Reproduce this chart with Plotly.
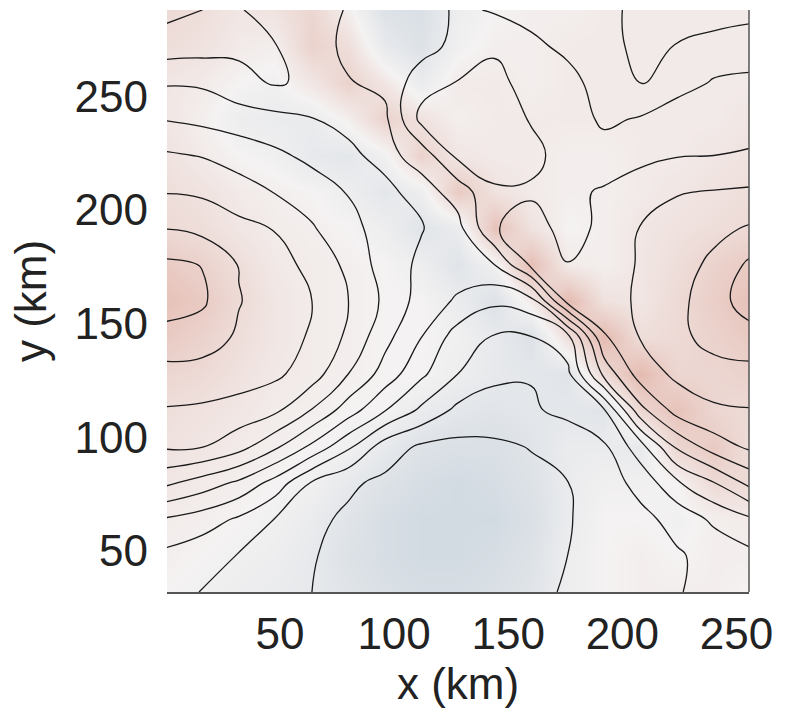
import plotly.graph_objects as go

# grid coordinates (km)
x_km = [0, 16, 32, 48, 64, 80, 96, 112, 128, 144, 160, 176, 192, 208, 224, 240, 256]
y_km = [288, 272, 256, 240, 224, 208, 192, 176, 160, 144, 128, 112, 96, 80, 64, 48, 32]

# contoured field (rows follow y_km, top to bottom) in contour-level units
psi_rows = [
    [2.7, 3.0, 3.95, 4.3, 4.7, 5.05, 5.2, 5.4, 6.2, 5.9, 5.7, 5.8, 5.4, 4.6, 4.5, 4.6, 4.7],
    [3.5, 3.6, 3.8, 3.97, 4.6, 5.2, 5.4, 5.6, 6.3, 6.85, 6.2, 5.8, 5.4, 4.7, 5.05, 5.3, 5.5],
    [4.9, 4.85, 4.3, 3.9, 4.2, 4.95, 5.2, 6.6, 7.05, 7.3, 6.6, 6.3, 5.6, 4.9, 5.5, 6.1, 6.2],
    [5.95, 5.75, 5.5, 5.3, 5.03, 4.75, 4.8, 7.3, 7.35, 7.4, 6.95, 6.6, 5.8, 6.1, 6.7, 6.75, 6.8],
    [7.13, 6.95, 6.6, 6.2, 5.75, 5.2, 4.7, 5.4, 7.25, 7.35, 7.2, 6.7, 6.5, 6.75, 6.95, 7.0, 7.05],
    [7.95, 7.85, 7.4, 6.95, 6.5, 5.95, 5.25, 4.6, 5.4, 6.9, 6.9, 6.8, 7.1, 7.5, 7.95, 8.05, 8.15],
    [8.97, 8.7, 8.3, 7.95, 7.1, 6.25, 5.65, 5.05, 4.7, 6.95, 7.3, 6.75, 7.15, 8.05, 8.35, 8.75, 9.1],
    [10.2, 9.97, 8.95, 8.35, 7.75, 6.75, 5.55, 4.8, 4.55, 5.0, 7.2, 7.02, 7.2, 8.15, 8.6, 9.2, 10.2],
    [10.45, 10.15, 9.05, 8.5, 8.0, 7.0, 5.8, 4.6, 3.85, 3.2, 3.6, 7.3, 7.45, 8.2, 8.7, 9.6, 10.45],
    [9.65, 9.5, 8.85, 8.4, 7.9, 6.8, 5.3, 4.0, 2.5, 1.9, 1.95, 2.6, 6.9, 8.05, 8.7, 9.4, 9.65],
    [8.66, 8.6, 8.5, 8.2, 7.5, 6.0, 4.6, 3.2, 2.0, 1.15, 1.05, 1.75, 5.3, 7.5, 8.2, 8.55, 8.66],
    [7.93, 7.85, 7.6, 7.2, 5.95, 4.5, 3.05, 1.8, 0.75, 0.7, 0.9, 1.2, 1.9, 5.7, 7.4, 7.85, 7.95],
    [7.14, 7.05, 6.4, 5.2, 3.8, 2.2, 0.5, -0.15, -0.25, -0.2, 0.05, 0.5, 0.85, 2.6, 5.2, 6.5, 7.2],
    [5.2, 4.55, 3.8, 2.6, 0.9, 0.15, -0.2, -0.4, -0.5, -0.45, -0.3, -0.02, 0.55, 1.3, 2.85, 3.95, 5.3],
    [2.9, 2.5, 1.85, 0.95, 0.2, -0.15, -0.4, -0.55, -0.6, -0.55, -0.4, -0.05, 0.3, 0.75, 1.3, 2.2, 2.85],
    [1.75, 1.35, 0.95, 0.5, 0.05, -0.25, -0.5, -0.6, -0.6, -0.55, -0.35, 0.0, 0.35, 0.65, 0.9, 1.3, 1.75],
    [1.5, 0.95, 0.7, 0.4, 0.0, -0.25, -0.45, -0.55, -0.55, -0.5, -0.25, 0.1, 0.4, 0.65, 0.95, 1.25, 1.5],
]

# shaded field (pink positive, blue negative), same grid
shade_rows = [
    [0.3, 0.25, 0.15, 0.2, 0.35, 0.05, -0.35, -0.4, -0.1, 0.0, 0.05, 0.05, 0.1, 0.1, 0.1, 0.1, 0.1],
    [0.25, 0.2, 0.1, 0.05, 0.4, 0.25, -0.2, -0.35, -0.05, 0.05, 0.05, 0.1, 0.1, 0.1, 0.1, 0.1, 0.1],
    [0.15, 0.1, 0.0, -0.05, 0.15, 0.4, 0.15, -0.15, 0.1, 0.1, 0.05, 0.1, 0.1, 0.1, 0.1, 0.1, 0.1],
    [0.15, 0.05, -0.1, -0.15, -0.15, 0.05, 0.4, 0.2, 0.05, 0.1, 0.1, 0.1, 0.1, 0.1, 0.1, 0.1, 0.15],
    [0.2, 0.1, 0.0, -0.05, -0.2, -0.25, -0.05, 0.4, 0.15, 0.1, 0.1, 0.05, 0.05, 0.1, 0.1, 0.15, 0.2],
    [0.25, 0.2, 0.1, 0.05, 0.0, -0.1, -0.25, -0.1, 0.5, 0.2, 0.1, 0.05, 0.05, 0.1, 0.15, 0.2, 0.25],
    [0.3, 0.25, 0.15, 0.08, 0.05, 0.0, -0.1, -0.3, -0.15, 0.6, 0.2, 0.0, 0.05, 0.15, 0.2, 0.25, 0.3],
    [0.5, 0.4, 0.25, 0.12, 0.08, 0.05, 0.0, -0.1, -0.3, -0.05, 0.65, 0.1, 0.05, 0.15, 0.25, 0.4, 0.5],
    [0.6, 0.5, 0.3, 0.15, 0.08, 0.05, 0.0, 0.0, -0.15, -0.35, 0.1, 0.7, 0.2, 0.15, 0.3, 0.45, 0.6],
    [0.5, 0.4, 0.25, 0.15, 0.08, 0.05, 0.0, 0.0, -0.05, -0.2, -0.35, 0.25, 0.7, 0.25, 0.3, 0.4, 0.5],
    [0.35, 0.3, 0.2, 0.12, 0.08, 0.05, 0.0, 0.0, -0.1, -0.2, -0.25, -0.3, 0.3, 0.7, 0.35, 0.35, 0.4],
    [0.25, 0.2, 0.15, 0.08, 0.05, 0.0, 0.0, -0.15, -0.25, -0.3, -0.25, -0.25, -0.3, 0.35, 0.6, 0.35, 0.3],
    [0.2, 0.15, 0.1, 0.05, 0.0, -0.05, -0.2, -0.35, -0.4, -0.4, -0.3, -0.15, -0.15, -0.2, 0.35, 0.5, 0.25],
    [0.15, 0.1, 0.05, 0.0, -0.05, -0.2, -0.35, -0.45, -0.5, -0.45, -0.35, -0.15, -0.05, -0.05, 0.0, 0.3, 0.3],
    [0.08, 0.05, 0.0, -0.05, -0.15, -0.3, -0.45, -0.5, -0.5, -0.5, -0.4, -0.15, 0.0, 0.0, -0.05, 0.05, 0.1],
    [0.05, 0.0, -0.05, -0.1, -0.2, -0.35, -0.45, -0.5, -0.5, -0.45, -0.35, -0.1, 0.0, 0.05, 0.0, 0.05, 0.05],
    [0.0, -0.05, -0.1, -0.15, -0.2, -0.3, -0.4, -0.45, -0.45, -0.4, -0.3, -0.1, 0.0, 0.05, 0.05, 0.05, 0.0],
]

x_ticks = [50, 100, 150, 200, 250]
y_ticks = [50, 100, 150, 200, 250]

shade_scale = [
    [0.0, "rgb(198,210,220)"],
    [0.4667, "rgb(244,242,242)"],
    [1.0, "rgb(226,178,166)"],
]

fig = go.Figure()
fig.add_trace(go.Heatmap(
    x=x_km, y=y_km, z=shade_rows, zmin=-0.7, zmax=0.8,
    colorscale=shade_scale, showscale=False, zsmooth="best", hoverinfo="skip",
))
fig.add_trace(go.Contour(
    x=x_km, y=y_km, z=psi_rows,
    contours=dict(coloring="none", start=0, end=10, size=1),
    line=dict(color="#1a1a1a", width=1.3, smoothing=1.3),
    showscale=False, hoverinfo="skip",
))

font_family = "Liberation Sans, Arial, Helvetica, sans-serif"
fig.update_layout(
    width=786, height=728,
    margin=dict(l=167, r=37, t=10, b=136),
    paper_bgcolor="white", plot_bgcolor="white",
    font=dict(family=font_family, size=44, color="#222"),
    showlegend=False,
    xaxis=dict(
        range=[0.5, 255.5], tickvals=x_ticks, ticks="", showgrid=False, zeroline=False,
        showline=True, linecolor="#555", linewidth=1.5, mirror=False,
        tickfont=dict(size=44), ticklabelstandoff=2,
        title=dict(text="x (km)", font=dict(size=44), standoff=12),
    ),
    yaxis=dict(
        range=[32, 288], tickvals=y_ticks, ticks="", showgrid=False, zeroline=False,
        showline=False, tickfont=dict(size=44), ticklabelstandoff=18,
        title=dict(text="y (km)", font=dict(size=44), standoff=14),
    ),
    shapes=[dict(type="line", xref="paper", yref="paper", x0=1, x1=1, y0=0, y1=1,
                 line=dict(color="#555", width=1.5))],
)

fig.write_html("out.html")
